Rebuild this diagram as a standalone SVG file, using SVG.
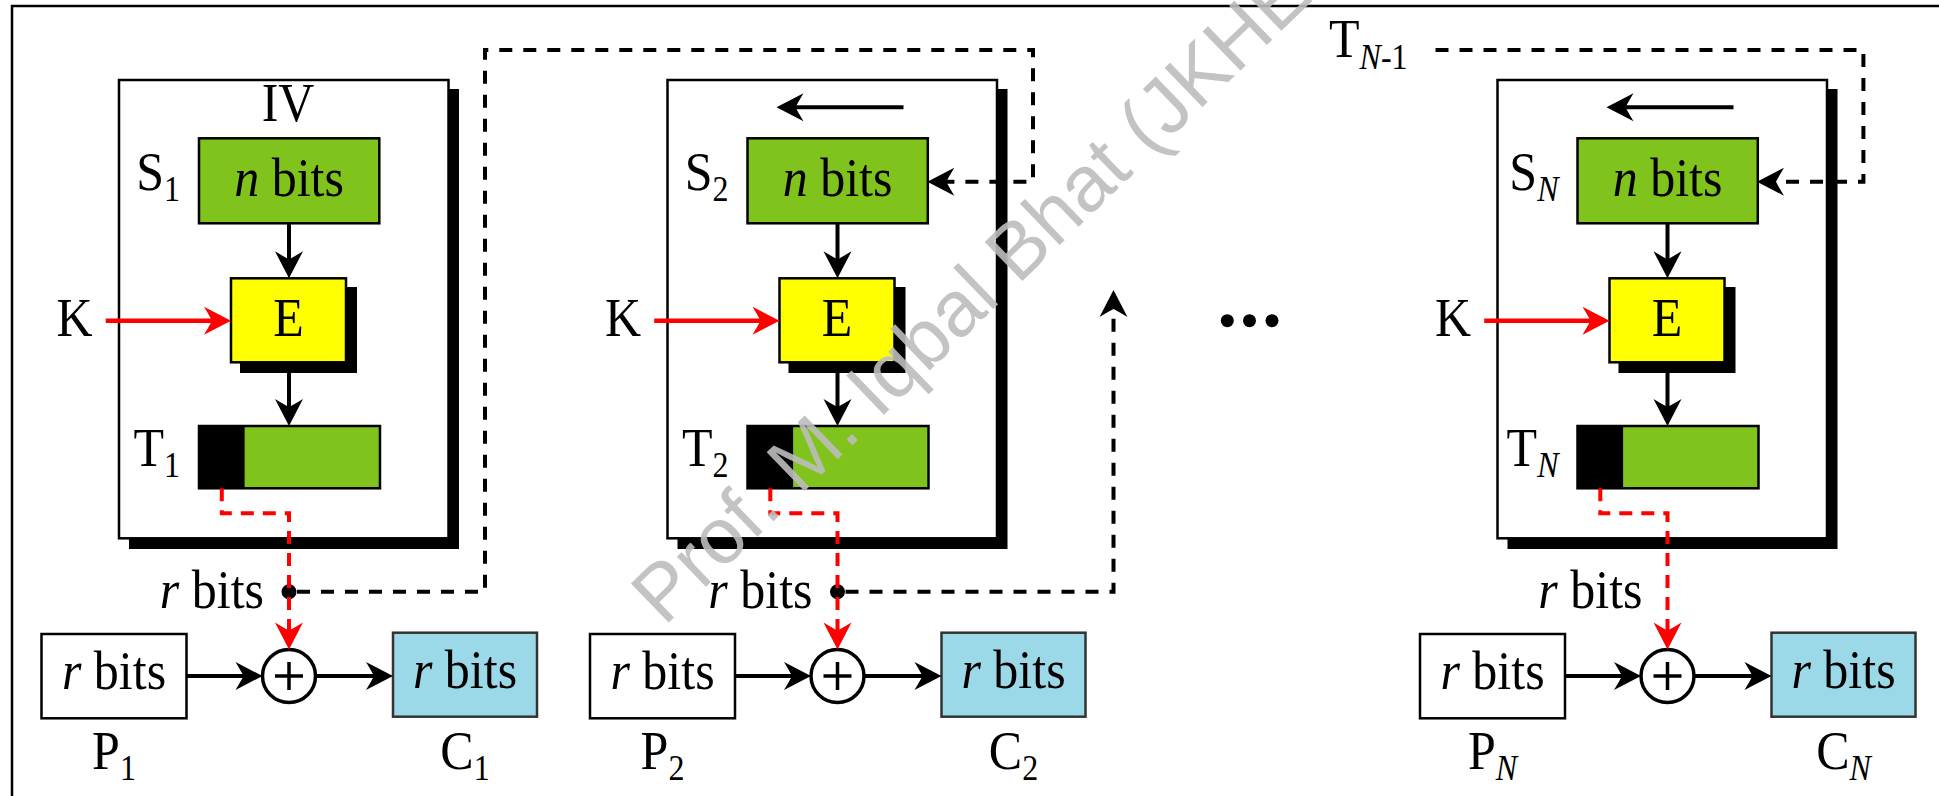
<svg xmlns="http://www.w3.org/2000/svg" width="1939" height="796" viewBox="0 0 1939 796">
<style>
  .t { font-family: "Liberation Serif", "Times New Roman", serif; font-size: 50px; fill: #000; }
  .sub { font-size: 32px; }
  .it { font-style: italic; }
  .mid { text-anchor: middle; }
  .end { text-anchor: end; }
  .frame { fill: #fff; stroke: #000; stroke-width: 2.5; }
  .shadow { fill: #000; }
  .green { fill: #7FC31C; stroke: #000; stroke-width: 2.5; }
  .yellow { fill: #FFFF00; stroke: #000; stroke-width: 2.5; }
  .blue { fill: #9CD9E8; stroke: #333; stroke-width: 2.5; }
  .white { fill: #fff; stroke: #000; stroke-width: 2.5; }
  .ln { fill: none; stroke: #000; stroke-width: 4; }
  .red { fill: none; stroke: #FF0000; stroke-width: 4.5; }
  .dash { fill: none; stroke: #000; stroke-width: 4; stroke-dasharray: 13 11; }
  .rdash { fill: none; stroke: #FF0000; stroke-width: 4; stroke-dasharray: 13 9; }
  .xor { fill: #fff; stroke: #000; stroke-width: 3.5; }
  .wm { font-family: "Liberation Sans", Arial, sans-serif; font-size: 79px; fill: #bdbdbd; opacity: 0.9; }
</style>
<defs>
  <marker id="ab" viewBox="-32 -16 38 32" markerWidth="38" markerHeight="32" refX="-6" refY="0" orient="auto" markerUnits="userSpaceOnUse">
    <path d="M0,0 L-27,-14 Q-21,-4 -19,0 Q-21,4 -27,14 Z" fill="#000"/>
  </marker>
  <marker id="ar" viewBox="-32 -16 38 32" markerWidth="38" markerHeight="32" refX="-6" refY="0" orient="auto" markerUnits="userSpaceOnUse">
    <path d="M0,0 L-27,-14 Q-21,-4 -19,0 Q-21,4 -27,14 Z" fill="#FF0000"/>
  </marker>
  <g id="blockBody">
    <g class="frameNode">
      <rect class="shadow" x="129" y="89" width="330" height="460"/>
      <rect class="frame" x="119" y="80" width="329.5" height="458.3"/>
    </g>
    <g class="sNode">
      <rect class="green" x="199" y="138.3" width="180.3" height="85"/>
      <text class="t mid" transform="translate(289,196) scale(1,1.1)"><tspan class="it">n</tspan> bits</text>
    </g>
    <g class="eNode">
      <rect class="shadow" x="240" y="287" width="117" height="86"/>
      <rect class="yellow" x="231" y="278.3" width="115" height="84"/>
      <text class="t mid" transform="translate(288.5,336) scale(1,1.1)">E</text>
    </g>
    <text class="t mid" transform="translate(74.5,336) scale(1,1.1)">K</text>
    <g class="tNode">
      <rect x="199" y="426" width="181" height="62.3" fill="#7FC31C"/>
      <rect x="199" y="426" width="45.6" height="62.3" fill="#000"/>
      <rect x="199" y="426" width="181" height="62.3" fill="none" stroke="#000" stroke-width="2.5"/>
    </g>
    <text class="t end" transform="translate(264,608) scale(1,1.1)"><tspan class="it">r</tspan> bits</text>
    <g class="pNode">
      <rect class="white" x="41.5" y="634" width="145" height="84.3"/>
      <text class="t mid" transform="translate(114,689) scale(1,1.1)"><tspan class="it">r</tspan> bits</text>
    </g>
    <g class="xorNode">
      <circle class="xor" cx="289" cy="676" r="26.5"/>
      <path d="M275,676 H303 M289,662 V690" stroke="#000" stroke-width="3.5" fill="none"/>
    </g>
    <g class="cNode">
      <rect class="blue" x="393" y="632.7" width="144" height="84"/>
      <text class="t mid" transform="translate(465,688) scale(1,1.1)"><tspan class="it">r</tspan> bits</text>
    </g>
  </g>
</defs>

<rect x="12" y="6" width="2000" height="900" fill="none" stroke="#000" stroke-width="2.5"/>

<g id="block1">
  <use href="#blockBody"/>
  <text class="t mid" transform="translate(288,121) scale(1,1.1)">IV</text>
  <text class="t end" transform="translate(180,190) scale(1,1.1)">S<tspan class="sub" dy="10">1</tspan></text>
  <text class="t end" transform="translate(180,466) scale(1,1.1)">T<tspan class="sub" dy="10">1</tspan></text>
  <text class="t mid" transform="translate(114,769) scale(1,1.1)">P<tspan class="sub" dy="10">1</tspan></text>
  <text class="t mid" transform="translate(465,769) scale(1,1.1)">C<tspan class="sub" dy="10">1</tspan></text>
  <circle id="dot1" cx="289" cy="591.7" r="7.5" fill="#000"/>
</g>

<g id="block2" transform="translate(548.5,0)">
  <use href="#blockBody"/>
  <text class="t end" transform="translate(180,190) scale(1,1.1)">S<tspan class="sub" dy="10">2</tspan></text>
  <text class="t end" transform="translate(180,466) scale(1,1.1)">T<tspan class="sub" dy="10">2</tspan></text>
  <text class="t mid" transform="translate(114,769) scale(1,1.1)">P<tspan class="sub" dy="10">2</tspan></text>
  <text class="t mid" transform="translate(465,769) scale(1,1.1)">C<tspan class="sub" dy="10">2</tspan></text>
  <circle id="dot2" cx="289" cy="591.7" r="7.5" fill="#000"/>
</g>

<g id="blockN" transform="translate(1378.5,0)">
  <use href="#blockBody"/>
  <text class="t end" transform="translate(180,190) scale(1,1.1)">S<tspan class="sub it" dy="10">N</tspan></text>
  <text class="t end" transform="translate(180,466) scale(1,1.1)">T<tspan class="sub it" dy="10">N</tspan></text>
  <text class="t mid" transform="translate(114,769) scale(1,1.1)">P<tspan class="sub it" dy="10">N</tspan></text>
  <text class="t mid" transform="translate(465,769) scale(1,1.1)">C<tspan class="sub it" dy="10">N</tspan></text>
</g>

<g id="ellipsis">
  <circle cx="1227.3" cy="320.7" r="6.5" fill="#000"/>
  <circle cx="1249.5" cy="320.7" r="6.5" fill="#000"/>
  <circle cx="1272" cy="320.7" r="6.5" fill="#000"/>
</g>

<g id="labelTN1">
  <text class="t" transform="translate(1329,57) scale(1,1.1)">T<tspan class="sub" dy="10.5"><tspan class="it">N</tspan>-1</tspan></text>
</g>

<g id="connectors">
  <g id="conn1">
    <path class="ln" d="M289,223.3 V272.3" marker-end="url(#ab)"/>
    <path class="ln" d="M289,362.3 V420" marker-end="url(#ab)"/>
    <path class="red" d="M105.7,320.7 H225" marker-end="url(#ar)"/>
    <path class="rdash" d="M221.8,488.3 V513.3 H289 V643.5" marker-end="url(#ar)"/>
    <path class="ln" d="M186.5,676 H256.5" marker-end="url(#ab)"/>
    <path class="ln" d="M315.5,676 H387" marker-end="url(#ab)"/>
  </g>
  <g id="conn2" transform="translate(548.5,0)">
    <path class="ln" d="M355,107.3 H234" marker-end="url(#ab)"/>
    <path class="ln" d="M289,223.3 V272.3" marker-end="url(#ab)"/>
    <path class="ln" d="M289,362.3 V420" marker-end="url(#ab)"/>
    <path class="red" d="M105.7,320.7 H225" marker-end="url(#ar)"/>
    <path class="rdash" d="M221.8,488.3 V513.3 H289 V643.5" marker-end="url(#ar)"/>
    <path class="ln" d="M186.5,676 H256.5" marker-end="url(#ab)"/>
    <path class="ln" d="M315.5,676 H387" marker-end="url(#ab)"/>
  </g>
  <g id="connN" transform="translate(1378.5,0)">
    <path class="ln" d="M355,107.3 H234" marker-end="url(#ab)"/>
    <path class="ln" d="M289,223.3 V272.3" marker-end="url(#ab)"/>
    <path class="ln" d="M289,362.3 V420" marker-end="url(#ab)"/>
    <path class="red" d="M105.7,320.7 H225" marker-end="url(#ar)"/>
    <path class="rdash" d="M221.8,488.3 V513.3 H289 V643.5" marker-end="url(#ar)"/>
    <path class="ln" d="M186.5,676 H256.5" marker-end="url(#ab)"/>
    <path class="ln" d="M315.5,676 H387" marker-end="url(#ab)"/>
  </g>
  <path id="feedback1" class="dash" d="M297,591.7 H485 V50 H1033 V181.7 H933.3" marker-end="url(#ab)"/>
  <path id="feedback2" class="dash" d="M845.5,591.7 H1113.5 V296" marker-end="url(#ab)"/>
  <path id="feedbackN" class="dash" d="M1435.5,50 H1863.4 V181.7 H1763" marker-end="url(#ab)"/>
</g>

<text class="wm" transform="translate(664,627) rotate(-44)">Prof. M. Iqbal Bhat (JKHED)</text>
</svg>
